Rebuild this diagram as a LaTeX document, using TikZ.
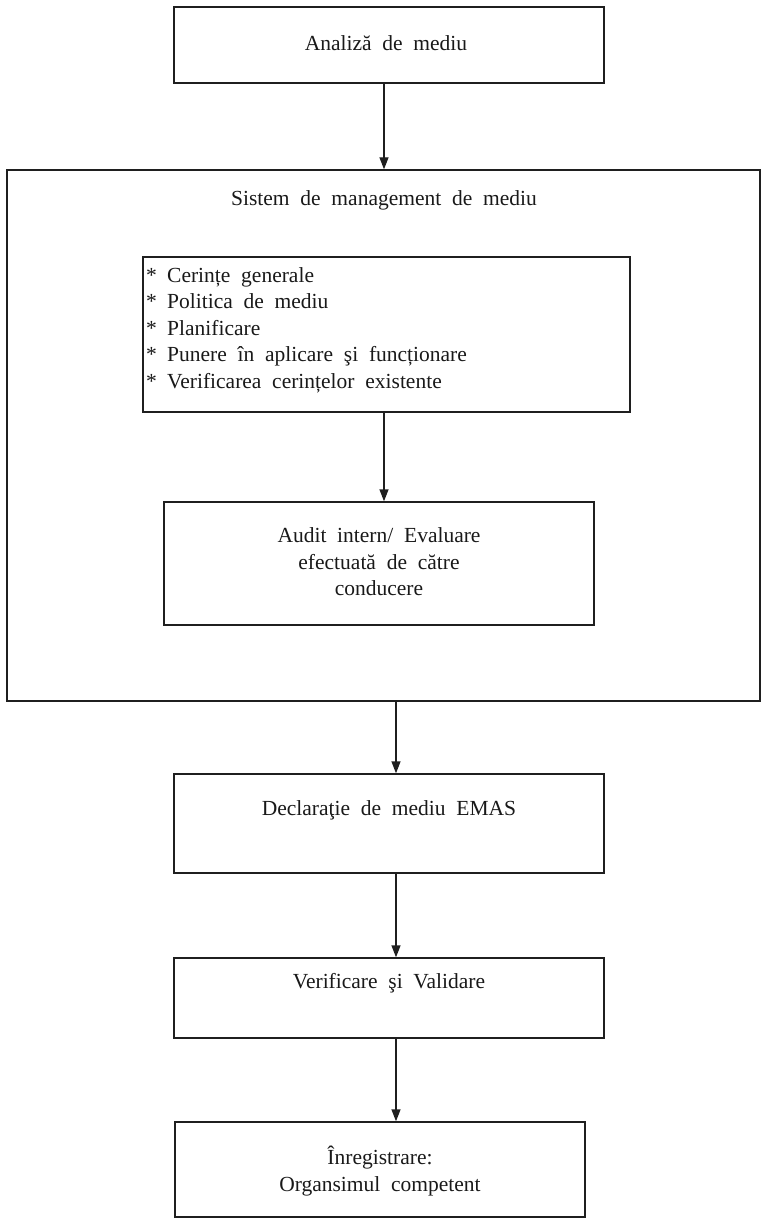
\documentclass[tikz,border=0pt]{standalone}
\usepackage{fontspec}
\setmainfont[WordSpace=2]{Liberation Serif}
\usetikzlibrary{arrows.meta}
\newcommand{\bul}{\makebox[21pt][l]{*}}
\begin{document}
\begin{tikzpicture}[x=1pt,y=-1pt,
  box/.style={draw=black!88,line width=1.4pt,rectangle,inner sep=0pt},
  txt/.style={font=\fontsize{21.5}{26.5}\selectfont,align=center,inner sep=0pt,text=black!90},
  arr/.style={draw=black!88,line width=1.4pt,-{Triangle[length=12pt,width=9pt]}}]
\useasboundingbox (0,0) rectangle (772,1225);
% boxes
\node[box,minimum width=430pt,minimum height=76pt] (A) at (389,45) {};
\node[box,minimum width=753pt,minimum height=531pt] (big) at (383.5,435.5) {};
\node[box,minimum width=487pt,minimum height=155pt] (list) at (386.5,334.5) {};
\node[box,minimum width=430pt,minimum height=123pt] (aud) at (379,563.5) {};
\node[box,minimum width=430pt,minimum height=99pt] (dec) at (389,823.5) {};
\node[box,minimum width=430pt,minimum height=80pt] (ver) at (389,998) {};
\node[box,minimum width=410pt,minimum height=95pt] (inr) at (380,1169.5) {};
% texts
\node[txt] (tA) at (386,43) {Analiză de mediu};
\node[txt] (tbig) at (384,200) {Sistem de management de mediu};
\node[txt,align=left,anchor=west] (tlist) at (146,330) {\bul Cerințe generale\\\bul Politica de mediu\\\bul Planificare\\\bul Punere în aplicare şi funcționare\\\bul Verificarea cerințelor existente};
\node[txt] (taud) at (379,562) {Audit intern/ Evaluare\\efectuată de către\\conducere};
\node[txt] (tdec) at (389,810) {Declaraţie de mediu EMAS};
\node[txt] (tver) at (389,983) {Verificare şi Validare};
\node[txt] (tinr) at (380,1171) {Înregistrare:\\Organsimul competent};
% connector anchors
\coordinate (c1) at (384,83);
\coordinate (c2) at (384,412);
\coordinate (c3) at (396,701);
\coordinate (c4) at (396,873);
\coordinate (c5) at (396,1038);
% connectors
\draw[arr] (c1) -- (c1 |- big.north);
\draw[arr] (c2) -- (c2 |- aud.north);
\draw[arr] (c3) -- (c3 |- dec.north);
\draw[arr] (c4) -- (c4 |- ver.north);
\draw[arr] (c5) -- (c5 |- inr.north);
\end{tikzpicture}
\end{document}
